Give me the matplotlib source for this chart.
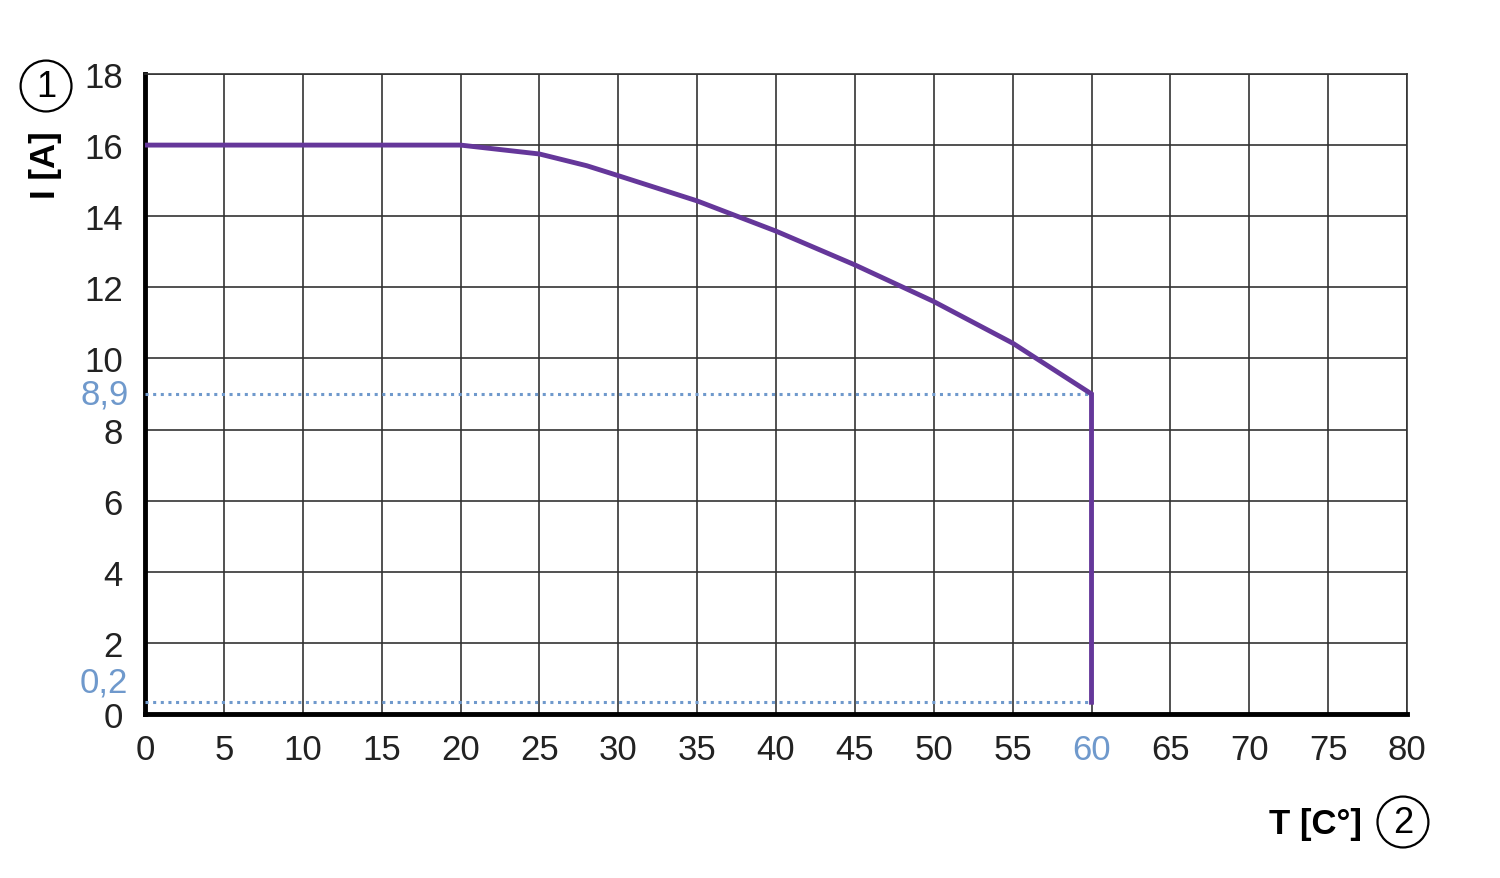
import matplotlib.pyplot as plt

plt.rcParams['font.family'] = ['Liberation Sans', 'DejaVu Sans']

# кривая тока от температуры
temp = [0, 20, 25, 28, 30, 35, 40, 45, 50, 55, 60, 60]
current = [16, 16, 15.75, 15.42, 15.14, 14.43, 13.58, 12.63, 11.6, 10.43, 9.0, 0.33]

# пунктирные отметки
mark_vals = [9.0, 0.33]
mark_labels = ['8,9', '0,2']
mark_label_y = [9.0, 0.9]
mark_x_end = 60

x_ticks = list(range(0, 85, 5))
y_ticks = list(range(0, 20, 2))

purple = '#65379a'
blue = '#6f99cc'

fig = plt.figure(figsize=(15, 8.79), dpi=100)
ax = fig.add_axes([0.0967, 0.1866, 0.8413, 0.7281])

ax.plot(temp, current, color=purple, lw=3.5, solid_joinstyle='miter', zorder=5)
for v in mark_vals:
    ax.plot([0, mark_x_end], [v, v], color=blue, lw=2.2, linestyle=(0, (1, 1.5)), zorder=4)

ax.set_xlim(0, 80)
ax.set_ylim(0, 18)
ax.set_xticks(x_ticks)
ax.set_yticks(y_ticks)
ax.tick_params(length=0, labelsize=25, colors='#222222', pad=14)
ax.tick_params(axis='y', pad=16)
ax.grid(True, color='#333333', lw=1.2)
ax.set_axisbelow(True)

for lbl in ax.get_xticklabels():
    if lbl.get_text() == '60':
        lbl.set_color(blue)

for s in ['left', 'bottom']:
    ax.spines[s].set_linewidth(3.5)
    ax.spines[s].set_color('black')
for s in ['top', 'right']:
    ax.spines[s].set_linewidth(1.2)
    ax.spines[s].set_color('#333333')

# подписи пунктирных линий
for y, t in zip(mark_label_y, mark_labels):
    ax.text(-1.05, y, t, color=blue, fontsize=25, ha='right', va='center', clip_on=False)

# подписи осей
fig.text(0.030, 0.812, 'I [A]', rotation=90, fontsize=25, fontweight='bold',
         ha='center', va='center')
fig.text(0.877, 0.062, 'T [C°]', fontsize=25, fontweight='bold',
         ha='center', va='center')

# номера в кружках
circ = dict(boxstyle='circle,pad=0.22', fc='none', ec='black', lw=1.6)
fig.text(0.0307, 0.901, '1', fontsize=26, ha='center', va='center', bbox=circ)
fig.text(0.9353, 0.0637, '2', fontsize=26, ha='center', va='center', bbox=circ)

fig.savefig('out.png', dpi=100)
